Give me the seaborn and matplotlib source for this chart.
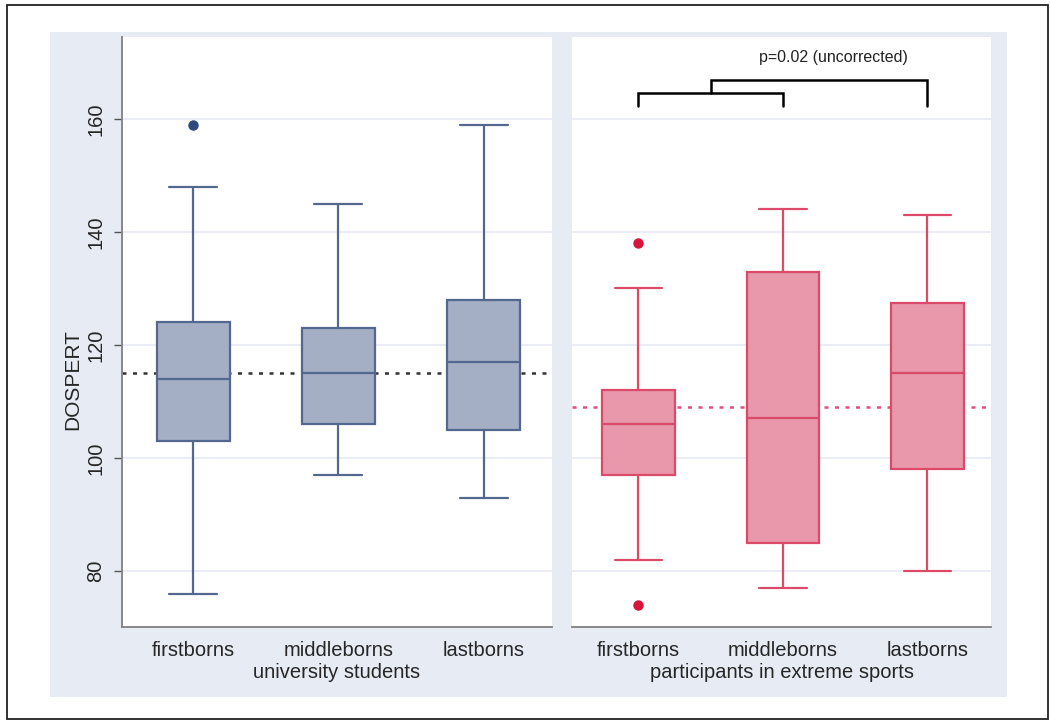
import matplotlib
matplotlib.use("Agg")
import seaborn as sns
from matplotlib import pyplot as plt
from matplotlib.patches import Rectangle

# summary statistics (whisker low, Q1, median, Q3, whisker high)
categories = ["firstborns", "middleborns", "lastborns"]

students_low = [76, 97, 93]
students_q1 = [103, 106, 105]
students_med = [114, 115, 117]
students_q3 = [124, 123, 128]
students_high = [148, 145, 159]
students_fliers = [[159], [], []]
students_mean = 115

sports_low = [82, 77, 80]
sports_q1 = [97, 85, 98]
sports_med = [106, 107, 115]
sports_q3 = [112, 133, 127.5]
sports_high = [130, 144, 143]
sports_fliers = [[138, 74], [], []]
sports_mean = 109

y_ticks = [80, 100, 120, 140, 160]
p_label = "p=0.02 (uncorrected)"

sns.set_theme(style="white")
plt.rcParams["font.family"] = ["Liberation Sans", "DejaVu Sans"]

BG = "#e6ebf4"
GRID = "#e8ecf4"


def make_stats(low, q1, med, q3, high, fliers):
    out = []
    for i in range(len(categories)):
        out.append({"whislo": low[i], "q1": q1[i], "med": med[i], "q3": q3[i],
                    "whishi": high[i], "fliers": fliers[i], "label": categories[i]})
    return out


def draw_panel(ax, stats, fill, edge, flier_col, mean, mean_col, xlabel):
    ax.set_facecolor("white")
    for t in y_ticks:
        ax.axhline(t, color=GRID, lw=1.3, zorder=0)
    ax.axhline(mean, color=mean_col, lw=1.8, linestyle=(0, (1.6, 2.6)), zorder=1)
    ax.bxp(stats, positions=range(len(categories)), widths=0.5, patch_artist=True,
           capwidths=0.33,
           boxprops=dict(facecolor=fill, edgecolor=edge, linewidth=1.6),
           medianprops=dict(color=edge, linewidth=1.6),
           whiskerprops=dict(color=edge, linewidth=1.6),
           capprops=dict(color=edge, linewidth=1.6),
           flierprops=dict(marker="o", markerfacecolor=flier_col, markeredgecolor=flier_col,
                           markersize=6.5),
           zorder=3)
    ax.set_ylim(70.1, 174.5)
    ax.set_xticks(range(len(categories)))
    ax.set_xticklabels(categories, fontsize=14.5)
    ax.set_xlabel(xlabel, fontsize=14.5, labelpad=2)
    ax.tick_params(axis="x", length=0, pad=10)
    for s in ["top", "right"]:
        ax.spines[s].set_visible(False)
    ax.spines["bottom"].set_color("#808080")
    ax.spines["bottom"].set_linewidth(1.3)


fig = plt.figure(figsize=(10.5, 7.2), dpi=100)
fig.patches.append(Rectangle((50 / 1050, 1 - 697 / 720), 957 / 1050, 665 / 720,
                             transform=fig.transFigure, facecolor=BG, edgecolor="none", zorder=-2))
fig.patches.append(Rectangle((7 / 1050, 1 / 720), 1041 / 1050, 714 / 720,
                             transform=fig.transFigure, facecolor="none", edgecolor="#222222",
                             linewidth=1.3, zorder=-1))

ax1 = fig.add_axes([122 / 1050, 1 - 627 / 720, 430 / 1050, 590 / 720])
ax2 = fig.add_axes([572 / 1050, 1 - 627 / 720, 419 / 1050, 590 / 720])

draw_panel(ax1, make_stats(students_low, students_q1, students_med, students_q3,
                           students_high, students_fliers),
           "#a4aec4", "#53688f", "#2c4a7e", students_mean, "#333333", "university students")
draw_panel(ax2, make_stats(sports_low, sports_q1, sports_med, sports_q3,
                           sports_high, sports_fliers),
           "#e898aa", "#dc4a6a", "#d6143e", sports_mean, "#e0507a", "participants in extreme sports")

ax1.set_xlim(-0.49, 2.47)
ax2.set_xlim(-0.46, 2.44)

ax1.set_yticks(y_ticks)
ax1.set_yticklabels([str(t) for t in y_ticks], rotation=90, va="center", fontsize=14.5)
ax1.tick_params(axis="y", length=6, width=1, color="#555555", left=True, pad=6)
ax1.spines["left"].set_color("#808080")
ax1.spines["left"].set_linewidth(1.3)
ax1.set_ylabel("DOSPERT", fontsize=15)
ax1.yaxis.set_label_coords(-0.093, 0.42)

ax2.spines["left"].set_visible(False)
ax2.set_yticks(y_ticks)
ax2.set_yticklabels([])
ax2.tick_params(axis="y", length=0)

# significance bracket
ax2.plot([0, 0, 1.0, 1.0], [162.3, 164.6, 164.6, 162.3], color="black", lw=1.8,
         solid_joinstyle="miter", clip_on=False)
ax2.plot([0.5, 0.5, 2.0, 2.0], [164.6, 166.9, 166.9, 162.3], color="black", lw=1.8,
         solid_joinstyle="miter", clip_on=False)
ax2.text(1.35, 170.8, p_label, ha="center", va="center", fontsize=11.5, color="#222222")

fig.savefig("out.png", dpi=100)
